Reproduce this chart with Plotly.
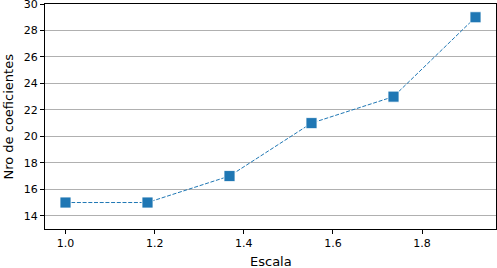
import plotly.graph_objects as go

escala = [1.0, 1.184, 1.368, 1.552, 1.736, 1.92]
coeficientes = [15, 15, 17, 21, 23, 29]
x_ticks = [1.0, 1.2, 1.4, 1.6, 1.8]
y_ticks = [14, 16, 18, 20, 22, 24, 26, 28, 30]

fig = go.Figure()
fig.add_trace(go.Scatter(
    x=escala, y=coeficientes, mode="lines+markers",
    line=dict(color="#1f77b4", width=1, dash="4px,1.7px", shape="linear"),
    marker=dict(symbol="square", size=11, color="#1f77b4", line=dict(color="white", width=0.8)),
    showlegend=False,
))

axis_common = dict(
    showline=True, linecolor="black", linewidth=1, mirror=True,
    ticks="outside", ticklen=4, tickwidth=1, tickcolor="black",
    tickfont=dict(family="DejaVu Sans", size=11, color="black"),
    zeroline=False, automargin=False, ticklabeloverflow="allow",
)
fig.update_xaxes(
    range=[0.954, 1.966], tickvals=x_ticks, ticktext=[f"{v:.1f}" for v in x_ticks],
    showgrid=False, **axis_common,
)
fig.update_yaxes(
    range=[13, 30.001], tickvals=y_ticks, showgrid=True, gridcolor="#b0b0b0", gridwidth=1,
    **axis_common,
)
title_font = dict(family="DejaVu Sans", size=13, color="black")
fig.add_annotation(text="Escala", xref="paper", yref="paper", x=0.5, y=0,
                   yshift=-32, xanchor="center", yanchor="middle", showarrow=False, font=title_font)
fig.add_annotation(text="Nro de coeficientes", xref="paper", yref="paper", x=0, y=0.5,
                   xshift=-37, xanchor="center", yanchor="middle", textangle=-90,
                   showarrow=False, font=title_font)
fig.update_layout(
    width=497, height=268,
    margin=dict(l=45, r=1, t=4, b=39),
    plot_bgcolor="white", paper_bgcolor="white",
)
fig.write_html("out.html", config={"displayModeBar": False},
               post_script="document.body.style.margin='0';document.body.style.overflow='hidden';")
